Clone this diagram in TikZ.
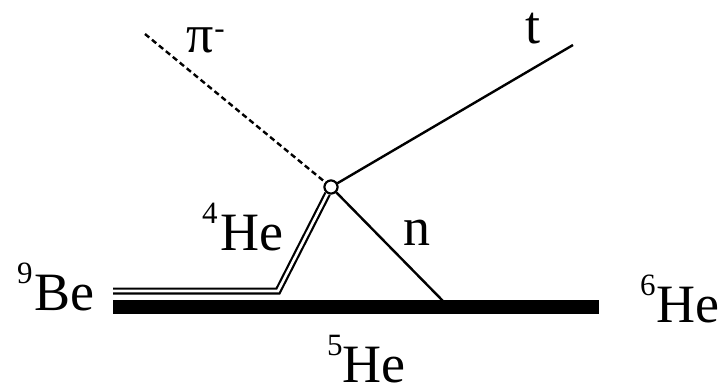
\documentclass[tikz,border=0pt]{standalone}
\usepackage{fontspec}
\setmainfont{Liberation Serif}
\begin{document}
\begin{tikzpicture}[x=1pt,y=-1pt,
  lbl/.style={anchor=base west,inner sep=0pt,text depth=0pt,font=\fontsize{54}{54}\selectfont},
  thin line/.style={line width=2.4pt},
  nucl/.style={line width=2.2pt,double=white,double distance=2.6pt},
  bar/.style={line width=13.5pt},
  vertex/.style={circle,draw,line width=2pt,fill=white,minimum size=13pt,inner sep=0pt}]
\useasboundingbox (0,0) rectangle (724,386);
\node[vertex] (v) at (331,187) {};
\coordinate (pistart) at (145,34);
\coordinate (tend) at (573,45);
\coordinate (nend) at (443,301);
\coordinate (bend) at (278,291);
\coordinate (bestart) at (113,291);
\coordinate (barL) at (113,307);
\coordinate (barR) at (599,307);
\draw[bar] (barL) -- (barR);
\draw[thin line,dash pattern=on 5.5pt off 3.5pt] (pistart) -- (v);
\draw[thin line] (v) -- (tend);
\draw[thin line] (v) -- (nend);
\draw[nucl] (v) -- (bend) -- (bestart);
\node[vertex] at (v) {};
\node[lbl] (be) at (17,310) {\raisebox{27pt}{\fontsize{31}{31}\selectfont 9}\kern2pt Be};
\node[lbl] (he4) at (202,250) {\raisebox{27pt}{\fontsize{31}{31}\selectfont 4}\kern3pt He};
\node[lbl] (he6) at (640,322) {\raisebox{27pt}{\fontsize{31}{31}\selectfont 6}\kern1pt He};
\node[lbl] (he5) at (327,382) {\raisebox{27pt}{\fontsize{31}{31}\selectfont 5}\kern0pt He};
\node[lbl] (nl) at (403,245) {n};
\node[lbl] (tl) at (525,43) {t};
\node[lbl] (pil) at (186,52) {π\kern1pt\raisebox{14pt}{\fontsize{31}{31}\selectfont -}};
\end{tikzpicture}
\end{document}
